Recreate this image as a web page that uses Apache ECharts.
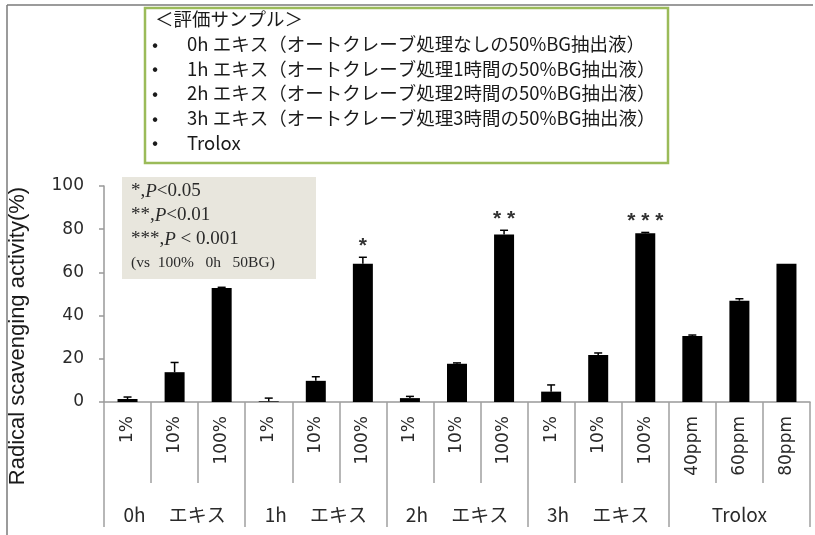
<!DOCTYPE html>
<html>
<head>
<meta charset="utf-8">
<script src="https://cdn.jsdelivr.net/npm/echarts@6/dist/echarts.min.js"></script>
<style>html,body{margin:0;padding:0;background:#fff;}#c{width:815px;height:535px;}</style>
</head>
<body>
<div id="c"></div>
<script>
const categories = ['1%','10%','100%','1%','10%','100%','1%','10%','100%','1%','10%','100%','40ppm','60ppm','80ppm'];
const groups = ['0h\u3000 エキス','1h\u3000 エキス','2h\u3000 エキス','3h\u3000 エキス','Trolox'];
const values = [1.4, 13.8, 52.8, 0.3, 9.8, 64.0, 1.8, 17.7, 77.6, 4.8, 21.8, 78.1, 30.6, 46.9, 64.0];
const errors = [0.9, 4.5, 0.3, 1.5, 1.9, 3.0, 0.8, 0.4, 1.9, 3.1, 0.9, 0.4, 0.4, 0.9, 0];
const sig = ['', '', '', '', '', '*', '', '', '* *', '', '', '* * *', '', '', ''];
const yTicks = [0, 20, 40, 60, 80, 100];
const legendTitle = '＜評価サンプル＞';
const legendItems = [
  '0h エキス（オートクレーブ処理なしの50%BG抽出液）',
  '1h エキス（オートクレーブ処理1時間の50%BG抽出液）',
  '2h エキス（オートクレーブ処理2時間の50%BG抽出液）',
  '3h エキス（オートクレーブ処理3時間の50%BG抽出液）',
  'Trolox'
];
const yTitle = 'Radical scavenging activity(%)';

const chart = echarts.init(document.getElementById('c'), null, {renderer: 'canvas'});
const jp = '"Noto Sans CJK JP", "Noto Sans", sans-serif';
const dv = 'DejaVu Sans';

const legendTexts = [];
legendTexts.push({type: 'text', left: 155, top: 10, style: {text: legendTitle, font: '18.5px ' + jp, fill: '#1a1a1a'}});
legendItems.forEach((t, i) => {
  const y = 35 + i * 24.6;
  legendTexts.push({type: 'text', left: 152, top: y, style: {text: '•', font: '18px ' + jp, fill: '#1a1a1a'}});
  legendTexts.push({type: 'text', left: 187, top: y, style: {text: t, font: '18.5px ' + jp, fill: '#1a1a1a'}});
});

const italicP = {i: {fontStyle: 'italic', fontSize: 19, fontFamily: 'Liberation Serif', fill: '#2a2a2a'}};

const option = {
  backgroundColor: '#fff',
  animation: false,
  grid: {left: 104, right: 5, top: 186, bottom: 133, containLabel: false},
  xAxis: [{
    type: 'category', data: categories, position: 'bottom',
    axisLine: {show: true, lineStyle: {color: '#999', width: 1.5}},
    axisTick: {show: true, interval: 0, length: 81, lineStyle: {color: '#a0a0a0', width: 1.5}},
    axisLabel: {interval: 0, rotate: 90, fontSize: 17, margin: 14, color: '#2a2a2a', fontFamily: dv}
  }, {
    type: 'category', data: groups, position: 'bottom',
    axisLine: {show: false},
    axisTick: {show: true, interval: 0, length: 125, lineStyle: {color: '#a0a0a0', width: 1.5}},
    axisLabel: {interval: 0, fontSize: 19, margin: 103, color: '#2a2a2a', fontFamily: jp}
  }],
  yAxis: {
    type: 'value', min: 0, max: 100, interval: 20,
    axisLine: {show: true, lineStyle: {color: '#999', width: 1.5}},
    axisTick: {show: true, length: 5, lineStyle: {color: '#999', width: 1.5}},
    splitLine: {show: false},
    axisLabel: {fontSize: 17, margin: 20, color: '#2a2a2a', fontFamily: dv}
  },
  series: [{
    type: 'bar', xAxisIndex: 0, data: values, barWidth: 20,
    itemStyle: {color: '#000'}
  }, {
    type: 'custom', xAxisIndex: 0,
    data: values.map((v, i) => [i, v, errors[i]]),
    z: 5,
    renderItem: function (params, api) {
      const i = params.dataIndex;
      const x = api.value(0), v = api.value(1), e = api.value(2);
      const b = api.coord([x, v]);
      const t = api.coord([x, v + e]);
      const children = [];
      if (e > 0) {
        children.push({type: 'line', shape: {x1: b[0], y1: b[1], x2: t[0], y2: t[1]}, style: {stroke: '#000', lineWidth: 1.5}});
        children.push({type: 'line', shape: {x1: t[0] - 4, y1: t[1], x2: t[0] + 4, y2: t[1]}, style: {stroke: '#000', lineWidth: 1.5}});
      }
      if (sig[i]) {
        children.push({type: 'text', x: t[0], y: t[1] - 1, style: {text: sig[i], font: 'bold 21px "Liberation Sans", sans-serif', fill: '#333', align: 'center', verticalAlign: 'bottom'}});
      }
      return {type: 'group', children: children};
    }
  }],
  graphic: [
    {type: 'line', shape: {x1: 7, y1: 5, x2: 813, y2: 5}, style: {stroke: '#7a7a7a', lineWidth: 1.5}},
    {type: 'line', shape: {x1: 7, y1: 5, x2: 7, y2: 535}, style: {stroke: '#7a7a7a', lineWidth: 1.5}},
    {type: 'rect', shape: {x: 145, y: 8, width: 523, height: 155}, style: {fill: '#fff', stroke: '#9bbb59', lineWidth: 2.5}},
    ...legendTexts,
    {type: 'rect', shape: {x: 122, y: 177, width: 194, height: 102}, style: {fill: '#e8e6dd'}},
    {type: 'text', left: 131, top: 182, style: {
      text: '*,{i|P}<0.05', font: '19px "Liberation Serif", serif', fill: '#2a2a2a', rich: italicP}},
    {type: 'text', left: 131, top: 206, style: {
      text: '**,{i|P}<0.01', font: '19px "Liberation Serif", serif', fill: '#2a2a2a', rich: italicP}},
    {type: 'text', left: 131, top: 230, style: {
      text: '***,{i|P} < 0.001', font: '19px "Liberation Serif", serif', fill: '#2a2a2a', rich: italicP}},
    {type: 'text', left: 131, top: 255, style: {text: '(vs  100%   0h   50BG)', font: '15.5px "Liberation Serif", serif', fill: '#2a2a2a'}},
    {type: 'text', x: 18, y: 336, rotation: Math.PI / 2, style: {text: yTitle, font: '22px "Liberation Sans", sans-serif', fill: '#1a1a1a', align: 'center', verticalAlign: 'middle'}}
  ]
};
chart.setOption(option);
</script>
</body>
</html>
